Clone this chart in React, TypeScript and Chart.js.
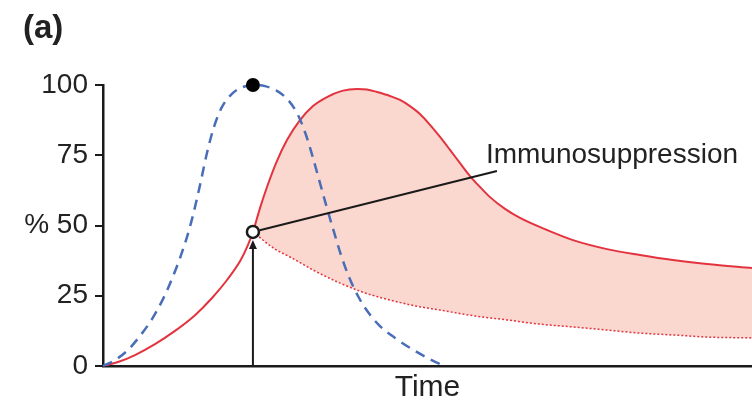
import { useEffect, useRef } from 'react';
import { Chart, registerables } from 'chart.js';

Chart.register(...registerables);

// Axis ticks and text
const yTickValues = [0, 25, 50, 75, 100];
const yTickLabels = ['0', '25', '% 50', '75', '100'];
const xAxisTitle = 'Time';
const panelLabel = '(a)';
const calloutText = 'Immunosuppression';

// Pathogen load (blue dashed)
const pathogenX = [0, 1.85, 3.85, 5.7, 7.55, 9.24, 10.63, 11.86, 12.94, 13.87, 14.95, 16.02, 17.1, 18.34, 20.03, 21.57, 23.1, 24.96, 26.81, 28.51, 30.05, 31.28, 32.36, 33.44, 34.51, 35.59, 36.67, 37.9, 39.29, 40.83, 42.68, 44.99, 47.61, 50.08, 51.93, 52.85];
const pathogenY = [0, 2.1, 5.7, 10.7, 16.7, 23.8, 31.0, 38.4, 45.9, 53.7, 64.4, 75.8, 85.1, 92.2, 97.2, 99.3, 100, 99.6, 97.9, 94.7, 89.3, 82.2, 74.0, 65.1, 56.2, 47.7, 39.5, 31.7, 24.9, 19.2, 14.2, 10.0, 6.0, 2.8, 0.7, 0];

// Host response (red solid)
const responseX = [0, 2.31, 4.93, 8.01, 11.09, 14.18, 16.8, 19.11, 21.22, 22.34, 23.1, 24.19, 25.27, 26.81, 28.35, 30.35, 32.36, 34.51, 36.83, 39.14, 40.68, 42.22, 44.22, 45.76, 47.3, 48.84, 50.39, 51.93, 53.47, 55.01, 56.55, 58.09, 59.63, 61.94, 64.25, 68.41, 72.42, 77.66, 82.74, 87.83, 93.07, 100];
const responseY = [0, 1.4, 3.9, 7.8, 12.5, 18.1, 24.2, 30.6, 37.7, 43.1, 47.7, 56.2, 63.7, 73.0, 80.4, 87.5, 92.5, 95.7, 97.9, 98.6, 98.4, 97.5, 96.1, 94.7, 92.5, 89.7, 85.8, 81.5, 76.9, 72.2, 67.6, 63.7, 60.1, 55.9, 52.7, 48.4, 44.8, 41.6, 39.5, 37.7, 36.3, 34.9];

// Baseline response without immunosuppression (red dotted)
const baselineX = [23.1, 26.5, 28.81, 32.67, 36.52, 40.37, 44.22, 48.07, 51.93, 57.32, 62.25, 67.33, 72.42, 77.66, 82.74, 88.14, 93.07, 100];
const baselineY = [47.7, 41.6, 38.8, 33.8, 29.5, 26.0, 23.5, 21.4, 19.9, 17.8, 16.4, 14.9, 13.9, 12.8, 11.7, 11.0, 10.3, 10.0];

// Marked points
const peakPoint = { x: 23.1, y: 100 };
const onsetPoint = { x: 23.1, y: 47.7 };
const calloutAnchor = { x: 60.7, y: 69.4 };
const calloutLabel = { x: 59.0, y: 72.2 };

const FONT = "'Liberation Sans', Arial, Helvetica, sans-serif";
const INK = '#1a1a1a';
const RED = '#e2333f';
const BLUE = '#4a6db8';
const ONSET_RADIUS = 6;

const toPoints = (xs: number[], ys: number[]) => xs.map((x, i) => ({ x, y: ys[i] }));

const overlay = {
  id: 'overlay',
  afterDatasetsDraw(chart: any) {
    const { ctx, scales } = chart;
    const xs = scales.x;
    const ys = scales.y;
    ctx.save();
    ctx.strokeStyle = INK;
    ctx.fillStyle = INK;
    ctx.lineWidth = 2;

    // vertical arrow from the time axis to the onset point
    const ax = xs.getPixelForValue(onsetPoint.x);
    const axisY = ys.getPixelForValue(0);
    const tipY = ys.getPixelForValue(onsetPoint.y) + ONSET_RADIUS + 2;
    ctx.beginPath();
    ctx.moveTo(ax, axisY);
    ctx.lineTo(ax, tipY + 6);
    ctx.stroke();
    ctx.beginPath();
    ctx.moveTo(ax, tipY);
    ctx.lineTo(ax - 4, tipY + 9);
    ctx.lineTo(ax + 4, tipY + 9);
    ctx.closePath();
    ctx.fill();

    // leader line from the onset point to the label
    const cx = xs.getPixelForValue(onsetPoint.x);
    const cy = ys.getPixelForValue(onsetPoint.y);
    const ex = xs.getPixelForValue(calloutAnchor.x);
    const ey = ys.getPixelForValue(calloutAnchor.y);
    const len = Math.hypot(ex - cx, ey - cy);
    const sx = cx + ((ex - cx) / len) * (ONSET_RADIUS + 1);
    const sy = cy + ((ey - cy) / len) * (ONSET_RADIUS + 1);
    ctx.beginPath();
    ctx.moveTo(sx, sy);
    ctx.lineTo(ex, ey);
    ctx.stroke();

    ctx.font = `28px ${FONT}`;
    ctx.textAlign = 'left';
    ctx.textBaseline = 'alphabetic';
    ctx.fillStyle = '#222';
    ctx.fillText(calloutText, xs.getPixelForValue(calloutLabel.x), ys.getPixelForValue(calloutLabel.y));

    // panel letter
    ctx.font = `bold 33px ${FONT}`;
    ctx.textBaseline = 'middle';
    ctx.fillText(panelLabel, 23, 29);
    ctx.restore();
  },
};

export default function App() {
  const canvasRef = useRef<HTMLCanvasElement | null>(null);

  useEffect(() => {
    document.body.style.margin = '0';
    const canvas = canvasRef.current;
    if (!canvas) return;

    const chart = new Chart(canvas, {
      type: 'line',
      data: {
        datasets: [
          {
            label: 'peak',
            type: 'scatter',
            data: [peakPoint],
            pointRadius: 7,
            pointBackgroundColor: '#000',
            pointBorderColor: '#000',
            pointBorderWidth: 0,
            order: 0,
            clip: false,
          } as any,
          {
            label: 'onset',
            type: 'scatter',
            data: [onsetPoint],
            pointRadius: ONSET_RADIUS,
            pointBackgroundColor: '#fff',
            pointBorderColor: INK,
            pointBorderWidth: 2.5,
            order: 0,
            clip: false,
          } as any,
          {
            label: 'pathogen',
            data: toPoints(pathogenX, pathogenY),
            borderColor: BLUE,
            borderWidth: 2.5,
            borderDash: [10, 7],
            pointRadius: 0,
            cubicInterpolationMode: 'monotone',
            fill: false,
            order: 1,
            clip: false,
          },
          {
            label: 'response',
            data: toPoints(responseX, responseY),
            borderColor: RED,
            borderWidth: 2,
            pointRadius: 0,
            cubicInterpolationMode: 'monotone',
            fill: false,
            order: 2,
          },
          {
            label: 'baseline',
            data: toPoints(baselineX, baselineY),
            borderColor: RED,
            borderWidth: 1.5,
            borderDash: [2, 2],
            pointRadius: 0,
            cubicInterpolationMode: 'monotone',
            fill: '-1',
            backgroundColor: '#fbd8cf',
            order: 3,
          },
        ],
      },
      options: {
        animation: false,
        responsive: true,
        maintainAspectRatio: false,
        layout: { autoPadding: false, padding: { top: 85, left: 0, right: 0, bottom: 0 } },
        plugins: {
          legend: { display: false },
          tooltip: { enabled: false },
        },
        scales: {
          x: {
            type: 'linear',
            min: 0,
            max: 100,
            ticks: { display: false },
            grid: { display: false },
            border: { display: true, color: INK, width: 2.5 },
            title: {
              display: true,
              text: xAxisTitle,
              color: '#222',
              font: { family: FONT, size: 30 },
              padding: { top: 0, bottom: 0 },
            },
            afterFit: (scale: any) => {
              scale.height = 40;
            },
          },
          y: {
            type: 'linear',
            min: 0,
            max: 100,
            afterBuildTicks: (scale: any) => {
              scale.ticks = yTickValues.map((v) => ({ value: v }));
            },
            ticks: {
              padding: 7,
              color: '#222',
              font: { family: FONT, size: 28 },
              callback: (value: any) => {
                const i = yTickValues.indexOf(Number(value));
                return i >= 0 ? yTickLabels[i] : '';
              },
            },
            grid: {
              display: true,
              drawOnChartArea: false,
              drawTicks: true,
              tickLength: 8,
              color: INK,
              lineWidth: 2,
            },
            border: { display: true, color: INK, width: 2.5 },
            afterFit: (scale: any) => {
              scale.width = 103;
            },
          },
        },
      },
      plugins: [overlay],
    } as any);

    return () => chart.destroy();
  }, []);

  return (
    <div style={{ position: 'relative', width: 752, height: 406 }}>
      <canvas ref={canvasRef} />
    </div>
  );
}
